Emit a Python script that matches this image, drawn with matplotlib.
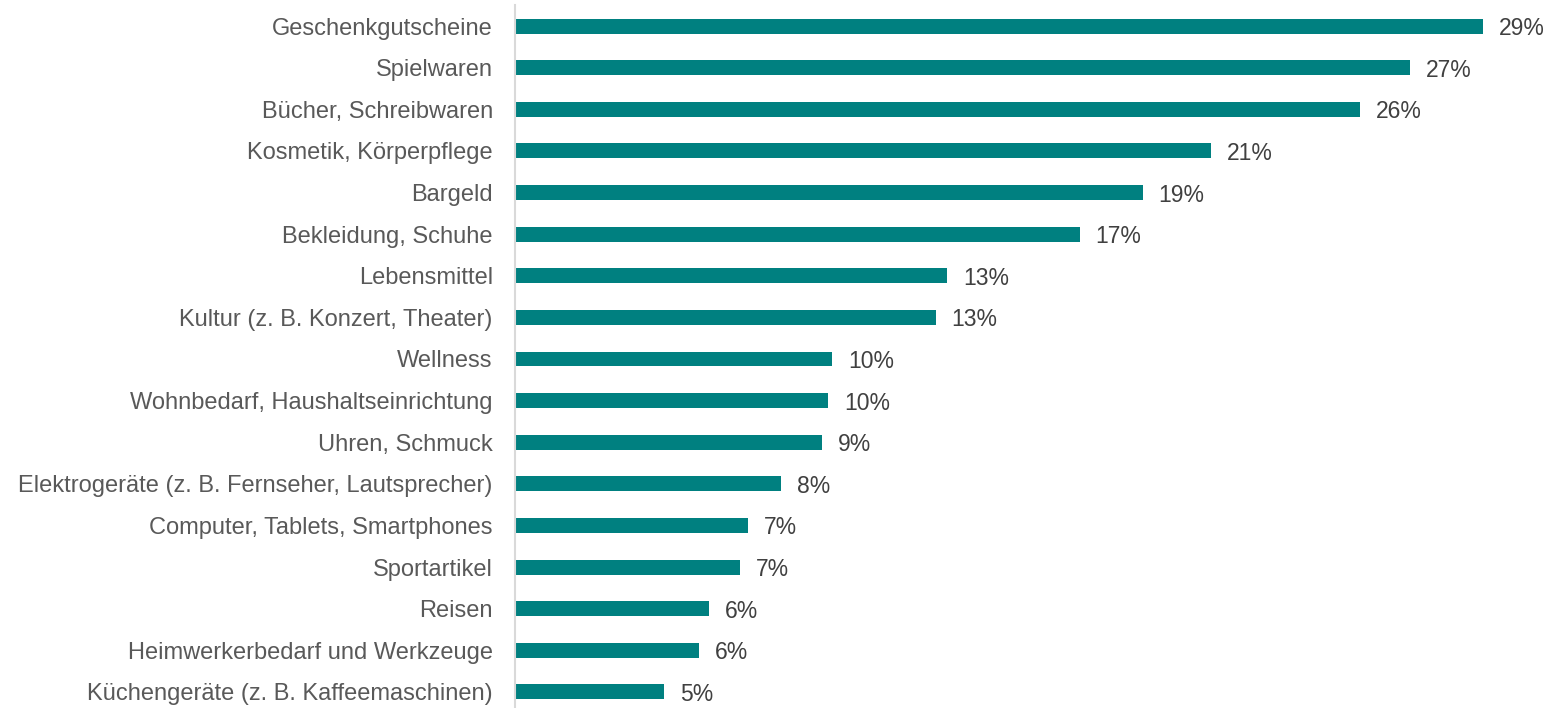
import matplotlib
matplotlib.use("Agg")
import matplotlib.pyplot as plt

plt.rcParams['font.family'] = ['Liberation Sans', 'DejaVu Sans']

categories = [
    "Geschenkgutscheine",
    "Spielwaren",
    "Bücher, Schreibwaren",
    "Kosmetik, Körperpflege",
    "Bargeld",
    "Bekleidung, Schuhe",
    "Lebensmittel",
    "Kultur (z. B. Konzert, Theater)",
    "Wellness",
    "Wohnbedarf, Haushaltseinrichtung",
    "Uhren, Schmuck",
    "Elektrogeräte (z. B. Fernseher, Lautsprecher)",
    "Computer, Tablets, Smartphones",
    "Sportartikel",
    "Reisen",
    "Heimwerkerbedarf und Werkzeuge",
    "Küchengeräte (z. B. Kaffeemaschinen)",
]
values = [29.44, 27.21, 25.69, 21.16, 19.09, 17.17, 13.15, 12.79, 9.65,
          9.53, 9.35, 8.10, 7.09, 6.85, 5.91, 5.59, 4.53]

BAR_COLOR = '#008080'

fig = plt.figure(figsize=(15.53, 7.08), dpi=100)
ax = fig.add_axes([515 / 1553, 0, (1518 - 515) / 1553, 703 / 708])

y = list(range(len(categories)))
ax.barh(y, values, height=0.36, color=BAR_COLOR, zorder=2)

for yi, v in zip(y, values):
    ax.text(v + 0.48, yi, f"{round(v)}%", va='center_baseline', ha='left',
            fontsize=16.5, color='#404040')

ax.set_yticks(y)
ax.set_yticklabels(categories, fontsize=17, color='#595959')
ax.tick_params(axis='y', length=0, pad=16)
ax.set_xticks([])
ax.set_xlim(0, 30.5)
ax.set_ylim(16.385, -0.505)

for side in ['top', 'right', 'bottom']:
    ax.spines[side].set_visible(False)
ax.spines['left'].set_color('#d9d9d9')
ax.spines['left'].set_linewidth(1.5)

fig.savefig("out.png", dpi=100)
